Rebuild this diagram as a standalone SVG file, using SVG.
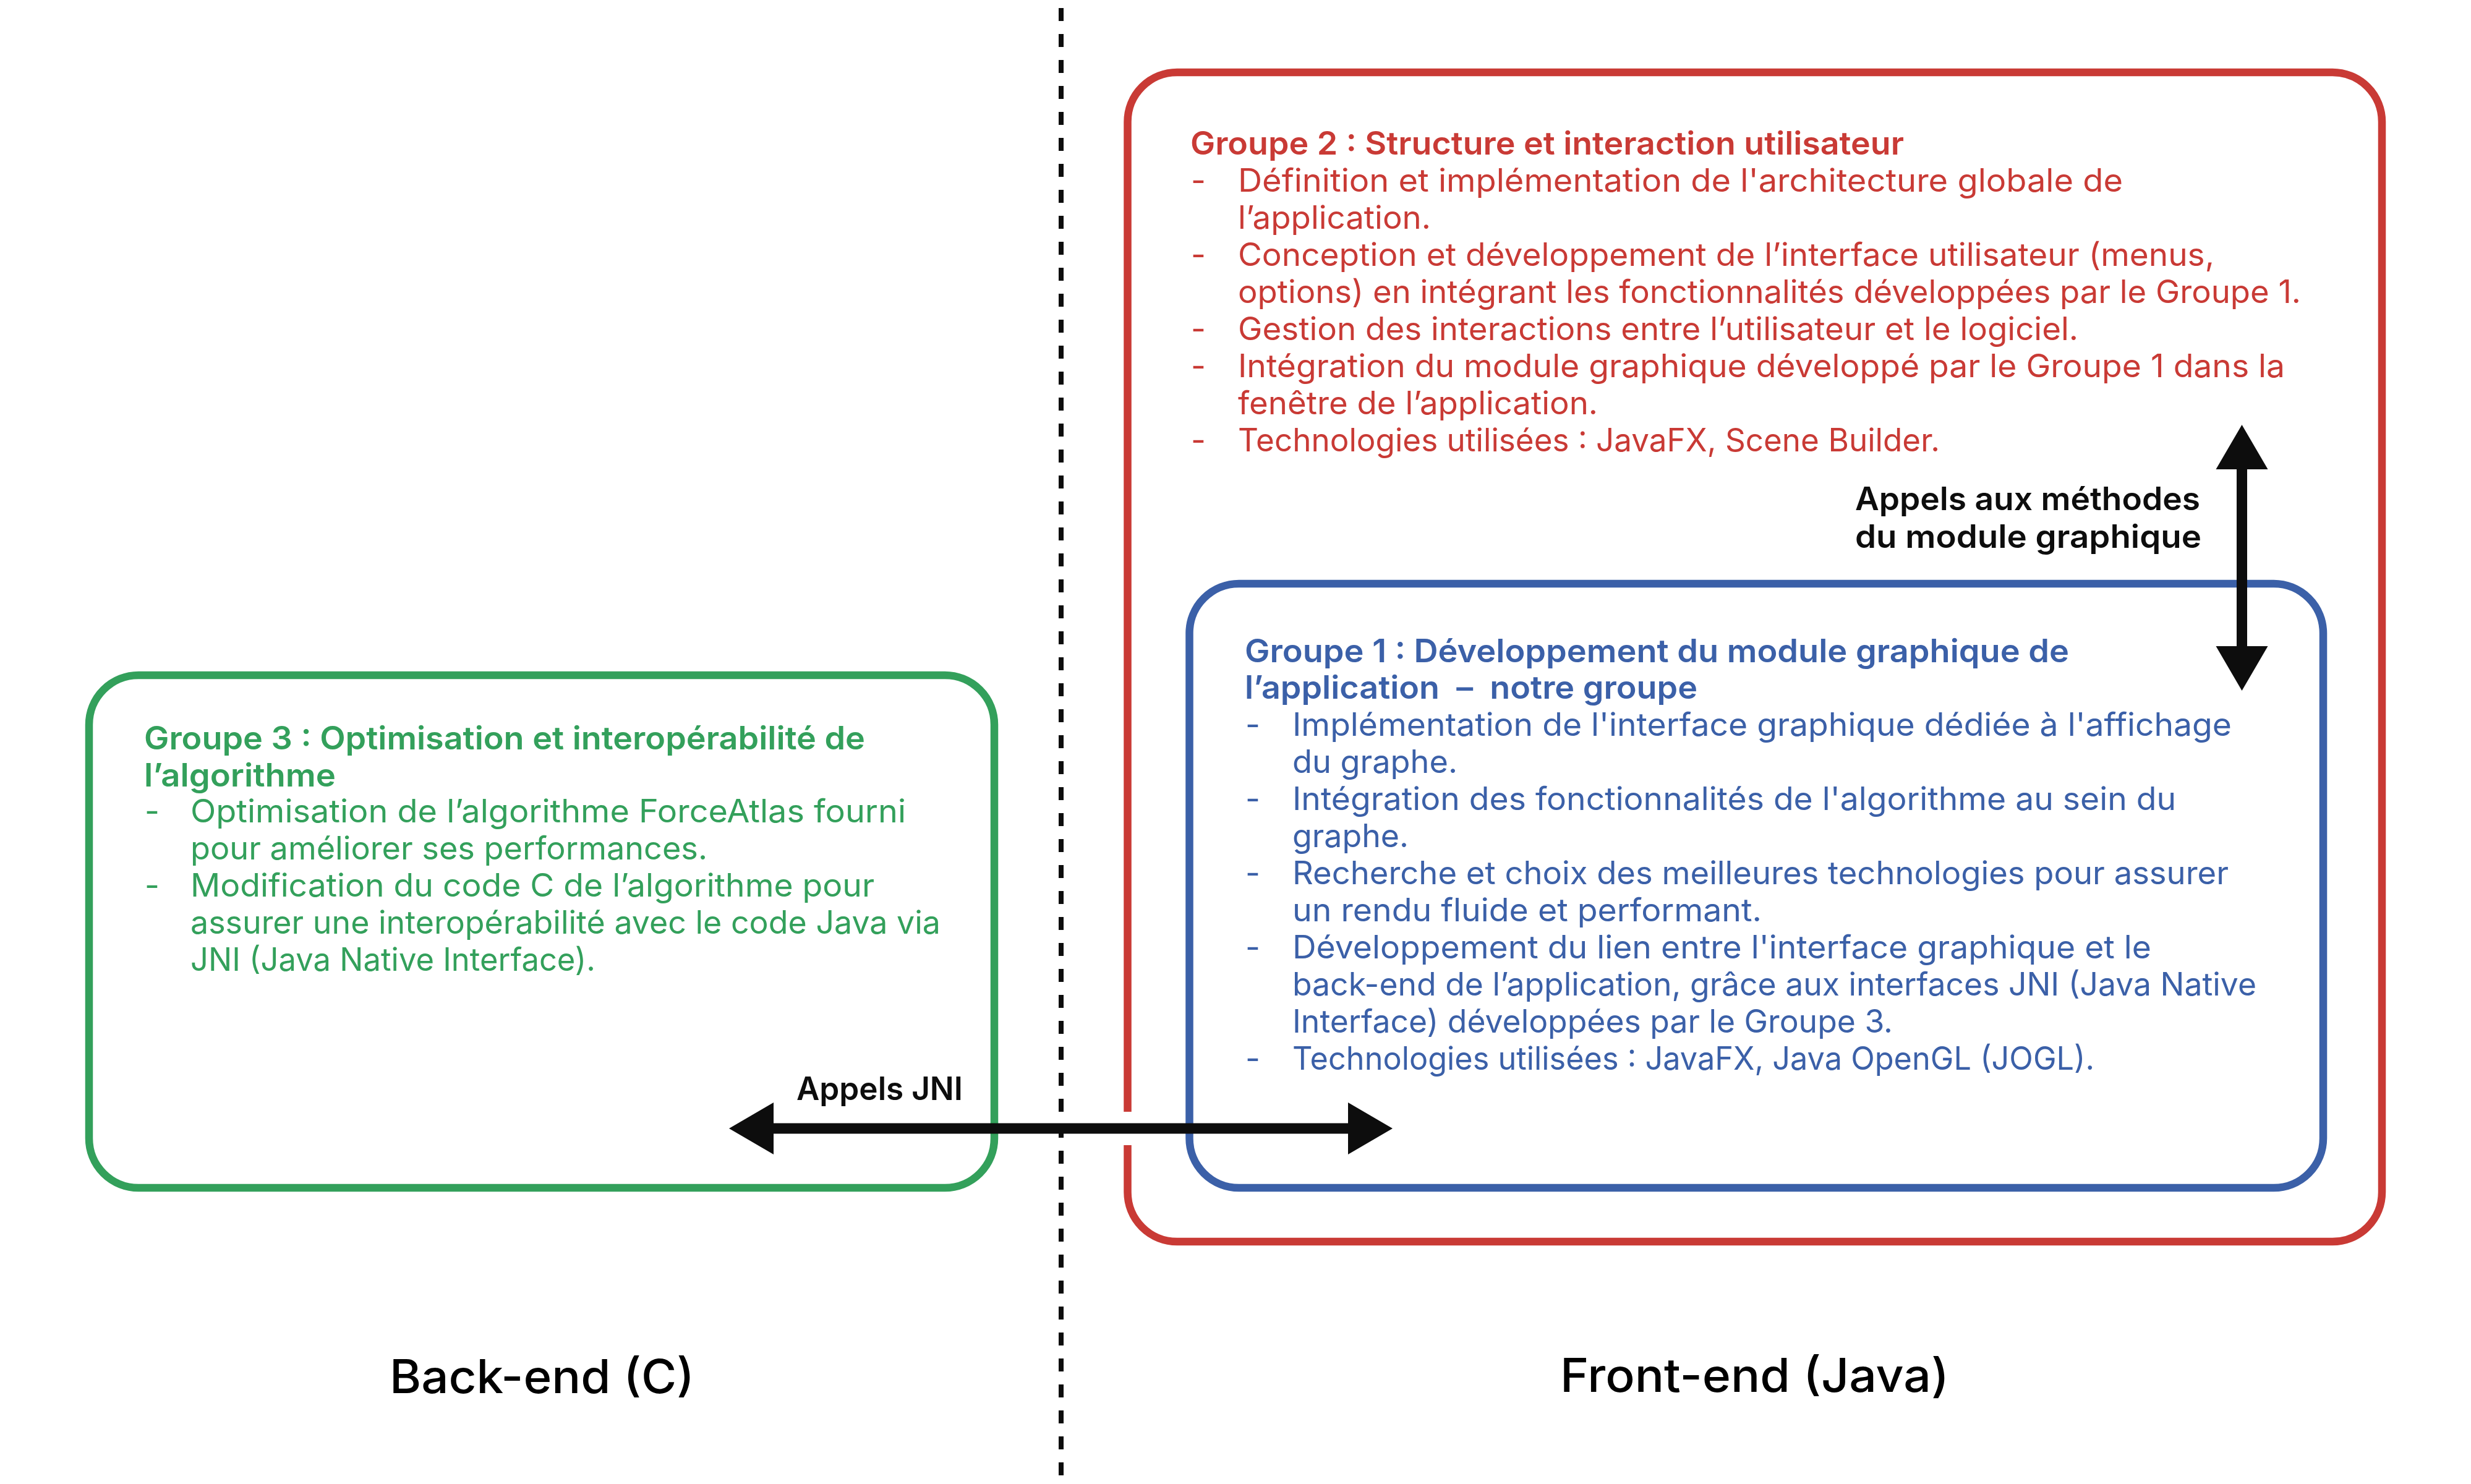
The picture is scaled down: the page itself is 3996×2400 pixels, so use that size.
<svg xmlns="http://www.w3.org/2000/svg" width="3996" height="2400" viewBox="0 0 3996 2400">
<style>
text { font-family: Inter, "Open Sans", "DejaVu Sans", sans-serif; font-size: 52px; }
.h { font-weight: 600; }
.red { fill: #C93A35; }
.blue { fill: #3B60A8; }
.green { fill: #33A05B; }
.blk { fill: #0D0D0D; font-weight: 600; }
.lbl { fill: #000; font-size: 75px; font-weight: 500; }
.box { fill: none; stroke-width: 12.5; }
.arrow { stroke: #0D0D0D; stroke-width: 17; fill: none; marker-start: url(#head); marker-end: url(#head); }
</style>
<defs>
<marker id="head" markerUnits="userSpaceOnUse" markerWidth="80" markerHeight="90" viewBox="0 -45 80 90" refX="0" refY="0" orient="auto-start-reverse" overflow="visible">
<path d="M0,-42 L72,0 L0,42 Z" fill="#0D0D0D"/>
</marker>
</defs>
<rect width="3996" height="2400" fill="#fff"/>

<line x1="1716" y1="13" x2="1716" y2="2400" stroke="#0D0D0D" stroke-width="8" stroke-dasharray="21 21"/>

<g id="groupe2">
<path class="box" stroke="#C93A35" d="M1823.5,1852 L1823.5,1928 A80,80 0 0 0 1903.5,2008 L3772,2008 A80,80 0 0 0 3852,1928 L3852,197 A80,80 0 0 0 3772,117 L1903.5,117 A80,80 0 0 0 1823.5,197 L1823.5,1798"/>
<text class="red h" x="1925" y="250" textLength="1154" lengthAdjust="spacingAndGlyphs">Groupe 2 : Structure et interaction utilisateur</text>
<g class="red">
<text x="1926" y="310">-</text>
<text x="2002" y="310" textLength="1431" lengthAdjust="spacingAndGlyphs">Définition et implémentation de l'architecture globale de</text>
<text x="2002" y="370" textLength="312" lengthAdjust="spacingAndGlyphs">l’application.</text>
<text x="1926" y="430">-</text>
<text x="2002" y="430" textLength="1579" lengthAdjust="spacingAndGlyphs">Conception et développement de l’interface utilisateur (menus,</text>
<text x="2002" y="490" textLength="1719" lengthAdjust="spacingAndGlyphs">options) en intégrant les fonctionnalités développées par le Groupe 1.</text>
<text x="1926" y="550">-</text>
<text x="2002" y="550" textLength="1359" lengthAdjust="spacingAndGlyphs">Gestion des interactions entre l’utilisateur et le logiciel.</text>
<text x="1926" y="610">-</text>
<text x="2002" y="610" textLength="1693" lengthAdjust="spacingAndGlyphs">Intégration du module graphique développé par le Groupe 1 dans la</text>
<text x="2002" y="670" textLength="582" lengthAdjust="spacingAndGlyphs">fenêtre de l’application.</text>
<text x="1926" y="730">-</text>
<text x="2002" y="730" textLength="1135" lengthAdjust="spacingAndGlyphs">Technologies utilisées : JavaFX, Scene Builder.</text>
</g>
</g>

<g id="groupe1">
<rect class="box" stroke="#3B60A8" x="1923.5" y="944" width="1833.5" height="977" rx="80" ry="80"/>
<g class="blue">
<text class="h" x="2013" y="1071" textLength="1333" lengthAdjust="spacingAndGlyphs">Groupe 1 : Développement du module graphique de</text>
<text class="h" x="2013" y="1130" textLength="732" lengthAdjust="spacingAndGlyphs" xml:space="preserve">l’application  –  notre groupe</text>
<text x="2014" y="1190">-</text>
<text x="2090" y="1190" textLength="1519" lengthAdjust="spacingAndGlyphs">Implémentation de l'interface graphique dédiée à l'affichage</text>
<text x="2090" y="1250" textLength="267" lengthAdjust="spacingAndGlyphs">du graphe.</text>
<text x="2014" y="1310">-</text>
<text x="2090" y="1310" textLength="1429" lengthAdjust="spacingAndGlyphs">Intégration des fonctionnalités de l'algorithme au sein du</text>
<text x="2090" y="1370" textLength="188" lengthAdjust="spacingAndGlyphs">graphe.</text>
<text x="2014" y="1430">-</text>
<text x="2090" y="1430" textLength="1514" lengthAdjust="spacingAndGlyphs">Recherche et choix des meilleures technologies pour assurer</text>
<text x="2090" y="1490" textLength="759" lengthAdjust="spacingAndGlyphs">un rendu fluide et performant.</text>
<text x="2014" y="1550">-</text>
<text x="2090" y="1550" textLength="1389" lengthAdjust="spacingAndGlyphs">Développement du lien entre l'interface graphique et le</text>
<text x="2090" y="1610" textLength="1559" lengthAdjust="spacingAndGlyphs">back-end de l’application, grâce aux interfaces JNI (Java Native</text>
<text x="2090" y="1670" textLength="971" lengthAdjust="spacingAndGlyphs">Interface) développées par le Groupe 3.</text>
<text x="2014" y="1730">-</text>
<text x="2090" y="1730" textLength="1297" lengthAdjust="spacingAndGlyphs">Technologies utilisées : JavaFX, Java OpenGL (JOGL).</text>
</g>
</g>

<g id="groupe3">
<rect class="box" stroke="#33A05B" x="144" y="1092" width="1464" height="829" rx="80" ry="80"/>
<g class="green">
<text class="h" x="233" y="1212" textLength="1166" lengthAdjust="spacingAndGlyphs">Groupe 3 : Optimisation et interopérabilité de</text>
<text class="h" x="233" y="1272" textLength="310" lengthAdjust="spacingAndGlyphs">l’algorithme</text>
<text x="234" y="1330">-</text>
<text x="308" y="1330" textLength="1157" lengthAdjust="spacingAndGlyphs">Optimisation de l’algorithme ForceAtlas fourni</text>
<text x="308" y="1390" textLength="836" lengthAdjust="spacingAndGlyphs">pour améliorer ses performances.</text>
<text x="234" y="1450">-</text>
<text x="308" y="1450" textLength="1106" lengthAdjust="spacingAndGlyphs">Modification du code C de l’algorithme pour</text>
<text x="308" y="1510" textLength="1213" lengthAdjust="spacingAndGlyphs">assurer une interopérabilité avec le code Java via</text>
<text x="308" y="1570" textLength="655" lengthAdjust="spacingAndGlyphs">JNI (Java Native Interface).</text>
</g>
</g>

<g id="connectors">
<path class="arrow" d="M1251,1825 L2180,1825"/>
<path class="arrow" d="M3625.5,759 L3625.5,1045"/>
<text class="blk" x="1288" y="1779" textLength="269" lengthAdjust="spacingAndGlyphs">Appels JNI</text>
<text class="blk" x="3000" y="825" textLength="558" lengthAdjust="spacingAndGlyphs">Appels aux méthodes</text>
<text class="blk" x="3000" y="886" textLength="560" lengthAdjust="spacingAndGlyphs">du module graphique</text>
</g>

<g id="labels">
<text class="lbl" x="630" y="2253" textLength="493" lengthAdjust="spacingAndGlyphs">Back-end (C)</text>
<text class="lbl" x="2523" y="2251" textLength="629" lengthAdjust="spacingAndGlyphs">Front-end (Java)</text>
</g>
</svg>
